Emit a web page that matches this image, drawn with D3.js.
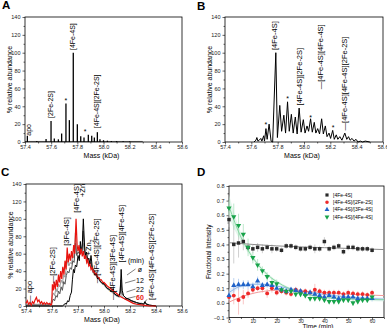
<!DOCTYPE html>
<html>
<head>
<meta charset="utf-8">
<script src="https://cdn.jsdelivr.net/npm/d3@7"></script>
<style>
  body { margin: 0; background: #fff; }
  svg { display: block; font-family: "Liberation Sans", Arial, sans-serif; }
  .tick text { font-size: 5.5px; fill: #222; }
  .tick line { stroke: #000; stroke-width: 0.6; }
  .domain { display: none; }
</style>
</head>
<body>
<div id="figure"></div>
<script>
// shared axis ticks
var massTicks = [57.4, 57.6, 57.8, 58.0, 58.2, 58.4, 58.6]
var massMinor = [57.5, 57.7, 57.9, 58.1, 58.3, 58.5]
var abundTicks = [0, 20, 40, 60, 80, 100, 120, 140]
var abundMinor = [10, 30, 50, 70, 90, 110, 130]

// panel A: stick spectrum (mass in kDa, % abundance)
var peakMassA = [57.418, 57.49, 57.561, 57.599, 57.624, 57.655, 57.68, 57.713, 57.739, 57.769, 57.80, 57.826, 57.851, 57.884, 57.91, 57.93, 57.953, 57.973, 58.0, 58.03, 58.06, 58.1, 58.15, 58.2]
var peakIntA = [7, 1, 3.5, 23.5, 4, 3, 9.5, 43, 24.5, 100, 20, 6.5, 5, 8, 7, 5, 11, 3, 2, 1.5, 1, 1, 0.8, 0.5]
var labelsA = [
  { m: 57.424, v: 7, t: "apo" },
  { m: 57.593, v: 27, t: "[2Fe-2S]" },
  { m: 57.767, v: 103, t: "[4Fe-4S]" },
  { m: 57.945, v: 15.5, t: "[4Fe-4S][2Fe-2S]" }
]
var starsA = [[57.713, 47], [57.859, 12]]

// panel B: profile spectrum
var massB = [57.62, 57.635, 57.642, 57.65, 57.66, 57.672, 57.68, 57.694, 57.70, 57.711, 57.72, 57.735, 57.75, 57.762, 57.786, 57.798, 57.816, 57.83, 57.847, 57.86, 57.875, 57.888, 57.904, 57.918, 57.934, 57.948, 57.963, 57.978, 57.995, 58.008, 58.023, 58.035, 58.05, 58.063, 58.078, 58.09, 58.104, 58.118, 58.134, 58.147, 58.162, 58.175, 58.19, 58.202, 58.218, 58.23, 58.245, 58.257, 58.272, 58.288, 58.31, 58.325, 58.338, 58.35, 58.365, 58.38, 58.395, 58.41, 58.428, 58.445, 58.465, 58.5]
var intB = [0, 2, 5, 1, 2, 4, 1, 7, 1, 15, 3, 20, 1, 0, 100, 5, 41, 12, 30, 10, 45, 12, 31, 10, 28, 9, 38, 11, 25, 10, 18, 12, 26, 11, 22, 10, 15, 9, 26, 9, 18, 6, 10, 4, 13, 3, 8, 3, 6, 2, 10, 3, 6, 2, 4, 1, 3, 0, 1, 0, 1, 0]
var labelsB = [
  { m: 57.777, v: 103, t: "[4Fe-4S]" },
  { m: 57.964, v: 41, t: "[4Fe-4S][2Fe-2S]" },
  { m: 58.124, v: 59, t: "\u2014[4Fe-4S][4Fe-4S]" },
  { m: 58.309, v: 13, t: "\u2014[4Fe-4S][4Fe-4S][2Fe-2S]" }
]
var starsB = [[57.711, 20], [57.875, 49], [58.051, 28], [58.222, 17]]

// panel C: time course spectra, [mass, %]
var specC0 = [[57.40, 0], [57.68, 0], [57.69, 1], [57.70, 3], [57.71, 2], [57.72, 6], [57.73, 5], [57.74, 12], [57.75, 16], [57.757, 30], [57.765, 42], [57.772, 38], [57.78, 47], [57.79, 45], [57.80, 58], [57.81, 52], [57.818, 74], [57.826, 62], [57.833, 70], [57.841, 100], [57.85, 70], [57.858, 57], [57.866, 62], [57.875, 52], [57.883, 55], [57.892, 48], [57.90, 58], [57.91, 44], [57.92, 42], [57.93, 36], [57.94, 38], [57.95, 31], [57.96, 33], [57.97, 28], [57.98, 27], [57.99, 25], [58.00, 26], [58.02, 21], [58.04, 19], [58.06, 17], [58.07, 20], [58.08, 14], [58.10, 12], [58.115, 11], [58.125, 16], [58.132, 42], [58.14, 18], [58.15, 12], [58.17, 9], [58.19, 8], [58.21, 6], [58.23, 5], [58.25, 4], [58.27, 3], [58.29, 3], [58.305, 2], [58.315, 5], [58.325, 2], [58.35, 1], [58.40, 0]]
var specC12 = [[57.40, 1], [57.50, 1], [57.58, 1], [57.60, 4], [57.61, 8], [57.62, 6], [57.63, 12], [57.64, 10], [57.65, 17], [57.66, 14], [57.67, 22], [57.68, 18], [57.69, 28], [57.70, 25], [57.71, 35], [57.72, 40], [57.73, 38], [57.74, 44], [57.75, 42], [57.76, 52], [57.77, 50], [57.78, 72], [57.79, 58], [57.80, 62], [57.81, 60], [57.82, 68], [57.83, 62], [57.84, 86], [57.85, 63], [57.86, 58], [57.87, 55], [57.88, 50], [57.89, 48], [57.90, 50], [57.91, 42], [57.92, 38], [57.94, 35], [57.96, 31], [57.98, 27], [58.00, 25], [58.02, 21], [58.04, 19], [58.06, 17], [58.08, 14], [58.10, 12], [58.12, 12], [58.13, 30], [58.14, 14], [58.16, 10], [58.18, 8], [58.20, 7], [58.25, 4], [58.30, 2], [58.32, 3], [58.35, 1], [58.40, 0]]
var specC22 = [[57.40, 2], [57.50, 2], [57.59, 2], [57.60, 10], [57.61, 15], [57.62, 12], [57.63, 20], [57.64, 16], [57.65, 25], [57.66, 22], [57.67, 30], [57.68, 26], [57.69, 36], [57.70, 33], [57.71, 44], [57.72, 52], [57.73, 46], [57.74, 50], [57.75, 48], [57.76, 58], [57.77, 55], [57.78, 84], [57.79, 62], [57.80, 64], [57.81, 62], [57.82, 66], [57.83, 60], [57.84, 72], [57.85, 60], [57.86, 55], [57.87, 52], [57.88, 48], [57.89, 46], [57.90, 46], [57.91, 40], [57.92, 37], [57.94, 34], [57.96, 30], [57.98, 27], [58.00, 24], [58.02, 20], [58.04, 18], [58.06, 16], [58.08, 13], [58.10, 11], [58.12, 10], [58.13, 20], [58.14, 10], [58.16, 8], [58.18, 7], [58.20, 6], [58.25, 3], [58.30, 1], [58.35, 0], [58.40, 0]]
var specC60 = [[57.40, 3], [57.41, 6], [57.42, 2], [57.43, 4], [57.44, 1], [57.45, 5], [57.46, 3], [57.47, 7], [57.48, 10], [57.49, 5], [57.50, 7], [57.51, 3], [57.52, 5], [57.53, 2], [57.54, 4], [57.55, 2], [57.56, 4], [57.57, 2], [57.58, 3], [57.59, 1], [57.598, 2], [57.603, 25], [57.61, 18], [57.617, 28], [57.625, 19], [57.633, 30], [57.642, 22], [57.65, 36], [57.658, 27], [57.667, 40], [57.675, 31], [57.683, 45], [57.692, 36], [57.70, 52], [57.708, 42], [57.717, 67], [57.725, 50], [57.733, 60], [57.742, 52], [57.75, 63], [57.758, 55], [57.767, 70], [57.775, 60], [57.785, 100], [57.793, 70], [57.80, 63], [57.808, 70], [57.817, 59], [57.825, 66], [57.833, 57], [57.842, 63], [57.85, 54], [57.858, 58], [57.867, 50], [57.875, 53], [57.883, 46], [57.892, 48], [57.90, 42], [57.908, 44], [57.917, 39], [57.925, 40], [57.933, 36], [57.942, 37], [57.95, 33], [57.96, 33], [57.97, 30], [57.98, 30], [57.99, 27], [58.00, 27], [58.025, 23], [58.05, 20], [58.075, 17], [58.10, 14], [58.125, 11], [58.15, 9], [58.175, 7], [58.20, 5], [58.225, 3], [58.25, 2], [58.30, 1], [58.35, 0], [58.40, 0]]
var labelsC = [
  { m: 57.425, v: 3.5, t: "\u2014 apo" },
  { m: 57.605, v: 26, t: "\u2014[2Fe-2S]" },
  { m: 57.708, v: 69, t: "[3Fe-4S]" },
  { m: 57.785, v: 107, t: "[4Fe-4S]" },
  { m: 57.831, v: 125, t: "+Zn" },
  { m: 57.938, v: 26, t: "\u2014[4Fe-4S][2Fe-2S]" },
  { m: 58.062, v: 7, t: "\u2014[4Fe-4S][3Fe-4S]" },
  { m: 58.131, v: 50, t: "[4Fe-4S][4Fe-4S]" },
  { m: 58.362, v: 7, t: "[4Fe-4S][4Fe-4S][2Fe-2S]" }
]
var minutesC = ["\u00f8", "12", "22", "60"]
var coloursC = ["#000", "#555", "#9a9a9a", "#e8140f"]

// panel D: fractional intensity vs time
var timeD = [0, 2, 4, 6, 8, 10, 12, 14, 16, 18, 20, 22, 24, 26, 28, 30, 32, 34, 36, 38, 40, 42, 44, 46, 48, 50, 52, 54, 56, 58, 60]
var fe4D = [0.57, 0.40, 0.41, 0.42, 0.38, 0.37, 0.38, 0.37, 0.38, 0.37, 0.37, 0.36, 0.39, 0.39, 0.38, 0.37, 0.37, 0.38, 0.37, 0.37, 0.42, 0.37, 0.38, 0.39, 0.35, 0.38, 0.38, 0.37, 0.37, 0.37, 0.36]
var fe4fe2D = [0.04, 0.05, 0.02, 0.04, 0.065, 0.09, 0.10, 0.10, 0.065, 0.10, 0.07, 0.08, 0.07, 0.06, 0.09, 0.08, 0.08, 0.07, 0.09, 0.08, 0.07, 0.07, 0.07, 0.07, 0.06, 0.07, 0.065, 0.06, 0.06, 0.055, 0.07]
var fe4fe3D = [0.05, 0.12, 0.125, 0.125, 0.125, 0.11, 0.15, 0.12, 0.125, 0.12, 0.10, 0.09, 0.08, 0.09, 0.085, 0.08, 0.06, 0.07, 0.06, 0.05, 0.04, 0.05, 0.04, 0.03, 0.04, 0.04, 0.04, 0.03, 0.03, 0.03, 0.03]
var fe4fe4D = [0.65, 0.59, 0.53, 0.47, 0.38, 0.31, 0.26, 0.22, 0.18, 0.14, 0.13, 0.09, 0.08, 0.08, 0.06, 0.06, 0.05, 0.03, 0.03, 0.03, 0.02, 0.01, 0.01, 0.01, 0.02, 0.02, 0.00, 0.01, 0.02, 0.02, 0.04]
var fe4ErrD = [0.05, 0.13, 0.1, 0.06, 0.03, 0.03, 0.03, 0.03, 0.02, 0.03, 0.02, 0.02, 0.02, 0.02, 0.02, 0.02, 0.02, 0.02, 0.03, 0.02, 0.03, 0.02, 0.02, 0.02, 0.02, 0.02, 0.02, 0.02, 0.02, 0.02, 0.02]
var fe4fe2ErrD = [0.03, 0.06, 0.10, 0.05, 0.03, 0.03, 0.02, 0.03, 0.03, 0.03, 0.02, 0.02, 0.02, 0.02, 0.02, 0.02, 0.02, 0.02, 0.04, 0.02, 0.02, 0.02, 0.02, 0.02, 0.02, 0.02, 0.02, 0.02, 0.02, 0.02, 0.02]
var fe4fe3ErrD = [0.03, 0.05, 0.04, 0.03, 0.03, 0.03, 0.03, 0.02, 0.02, 0.02, 0.02, 0.02, 0.02, 0.02, 0.02, 0.02, 0.02, 0.02, 0.02, 0.02, 0.02, 0.02, 0.02, 0.02, 0.02, 0.02, 0.02, 0.02, 0.02, 0.02, 0.02]
var fe4fe4ErrD = [0.05, 0.09, 0.08, 0.07, 0.06, 0.04, 0.04, 0.03, 0.03, 0.03, 0.03, 0.02, 0.02, 0.02, 0.02, 0.02, 0.02, 0.02, 0.02, 0.02, 0.02, 0.02, 0.02, 0.02, 0.02, 0.02, 0.02, 0.02, 0.02, 0.02, 0.02]
// fitted curves, [time, value]
var fitFe4 = [[0, 0.412], [10, 0.40], [20, 0.39], [40, 0.378], [65, 0.365]]
var fitFe4fe2 = [[0, 0.005], [5, 0.04], [10, 0.065], [15, 0.08], [20, 0.086], [25, 0.085], [30, 0.08], [40, 0.07], [50, 0.06], [65, 0.05]]
var fitFe4fe3 = [[0, 0.07], [4, 0.11], [8, 0.125], [12, 0.128], [16, 0.125], [20, 0.115], [25, 0.1], [30, 0.083], [40, 0.058], [50, 0.04], [65, 0.025]]
var fitFe4fe4 = [[0, 0.66], [5, 0.45], [10, 0.31], [15, 0.21], [20, 0.145], [25, 0.10], [30, 0.07], [35, 0.05], [40, 0.038], [50, 0.027], [65, 0.022]]
var bandFe4fe4 = [[0, 0.58, 0.74], [5, 0.42, 0.48], [10, 0.295, 0.325], [15, 0.198, 0.222], [20, 0.135, 0.155], [30, 0.062, 0.078], [40, 0.03, 0.046], [65, 0.01, 0.034]]
var bandFe4fe3 = [[0, 0.045, 0.095], [5, 0.103, 0.127], [12, 0.12, 0.136], [20, 0.107, 0.123], [30, 0.075, 0.091], [45, 0.042, 0.054], [65, 0.014, 0.036]]
var legendD = ["[4Fe-4S]", "[4Fe-4S]/[2Fe-2S]", "[4Fe-4S]/[3Fe-4S]", "[4Fe-4S]/[4Fe-4S]"]
var timeTicks = [0, 10, 20, 30, 40, 50, 60]
var timeMinor = [5, 15, 25, 35, 45, 55, 65]
var fracTicks = [-0.1, 0.0, 0.1, 0.2, 0.3, 0.4, 0.5, 0.6, 0.7, 0.8]
var fracMinor = [-0.05, 0.05, 0.15, 0.25, 0.35, 0.45, 0.55, 0.65, 0.75]

var svg = d3.select("#figure")
    .append("svg")
    .attr("width", 387)
    .attr("height", 328)

// draw a boxed frame with outward ticks
function frame(box, x, y, xt, xm, xfmt, yt, ym, yfmt, xpad) {
    var g = svg.append("g")
    g.append("g").attr("transform", `translate(0,${box.b})`)
        .call(d3.axisBottom(x).tickValues(xm).tickSize(1.5).tickFormat(""))
    g.append("g").attr("class", "xlabels").attr("transform", `translate(0,${box.b})`)
        .call(d3.axisBottom(x).tickValues(xt).tickSize(2.5).tickPadding(xpad).tickFormat(xfmt))
    g.append("g").attr("transform", `translate(${box.l},0)`)
        .call(d3.axisLeft(y).tickValues(ym).tickSize(1.5).tickFormat(""))
    g.append("g").attr("transform", `translate(${box.l},0)`)
        .call(d3.axisLeft(y).tickValues(yt).tickSize(2.5).tickPadding(2).tickFormat(yfmt))
    g.append("rect")
        .attr("x", box.l).attr("y", box.t)
        .attr("width", box.r - box.l).attr("height", box.b - box.t)
        .attr("fill", "none").attr("stroke", "#000").attr("stroke-width", 0.8)
    return g
}

function vLabel(g, x, y, text, size) {
    return g.append("text")
        .attr("transform", `translate(${x},${y}) rotate(-90)`)
        .attr("dy", "0.35em")
        .style("font-size", size + "px")
        .text(text)
}

function panelLetter(x, y, t) {
    svg.append("text").attr("x", x).attr("y", y)
        .style("font-size", "11.5px").style("font-weight", "bold").text(t)
}

function massPanel(box, letter, letterX, letterY) {
    var x = d3.scaleLinear().domain([57.4, 58.6]).range([box.l, box.r])
    var y = d3.scaleLinear().domain([0, 140]).range([box.b, box.t])
    var g = frame(box, x, y, massTicks, massMinor, d3.format(".1f"), abundTicks, abundMinor, d3.format("d"), 1)
    // keep the last tick label inside the page
    g.selectAll(".tick text").filter(d => d === 58.6 && box.r > 380).attr("text-anchor", "end").attr("dx", "0.9em")
    svg.append("text")
        .attr("x", (box.l + box.r) / 2 - 2).attr("y", box.b + 16)
        .attr("text-anchor", "middle").style("font-size", "7px")
        .text("Mass (kDa)")
    svg.append("text")
        .attr("transform", `translate(${box.l - 13},${(box.t + box.b) / 2}) rotate(-90)`)
        .attr("text-anchor", "middle").style("font-size", "7px")
        .text("% relative abundance")
    panelLetter(letterX, letterY, letter)
    return { x: x, y: y }
}

// ---------- A ----------
var boxA = { l: 25, r: 182, t: 17, b: 142 }
var sA = massPanel(boxA, "A", 2, 9)
var gA = svg.append("g")
gA.append("line")
    .attr("x1", sA.x(57.4)).attr("x2", sA.x(58.3))
    .attr("y1", sA.y(0.6)).attr("y2", sA.y(0.6))
    .attr("stroke", "#000").attr("stroke-width", 0.6)
gA.selectAll("line.peak")
    .data(peakMassA)
    .enter()
    .append("line")
    .attr("class", "peak")
    .attr("x1", d => sA.x(d)).attr("x2", d => sA.x(d))
    .attr("y1", sA.y(0))
    .attr("y2", (d, i) => sA.y(peakIntA[i]))
    .attr("stroke", "#000").attr("stroke-width", 1.3)
labelsA.forEach(d => vLabel(gA, sA.x(d.m), sA.y(d.v), d.t, 7))
starsA.forEach(d => {
    gA.append("text").attr("x", sA.x(d[0])).attr("y", sA.y(d[1]) + 3)
        .attr("text-anchor", "middle").style("font-size", "7px").text("*")
})

// ---------- B ----------
var boxB = { l: 225, r: 383, t: 17, b: 142 }
var sB = massPanel(boxB, "B", 197, 10)
var gB = svg.append("g")
gB.append("path")
    .datum(massB)
    .attr("d", d3.line().x(d => sB.x(d)).y((d, i) => sB.y(intB[i])))
    .attr("fill", "none").attr("stroke", "#000").attr("stroke-width", 1)
labelsB.forEach(d => vLabel(gB, sB.x(d.m), sB.y(d.v), d.t, 7.5))
starsB.forEach(d => {
    gB.append("text").attr("x", sB.x(d[0])).attr("y", sB.y(d[1]) + 3)
        .attr("text-anchor", "middle").style("font-size", "7px").text("*")
})

// ---------- C ----------
var boxC = { l: 26, r: 182, t: 184, b: 306 }
var sC = massPanel(boxC, "C", 1, 176)
var gC = svg.append("g")
var lineC = d3.line().x(d => sC.x(d[0])).y(d => sC.y(d[1]))
var seriesC = [specC22, specC12, specC0, specC60]
var seriesColour = [coloursC[2], coloursC[1], coloursC[0], coloursC[3]]
seriesC.forEach((s, i) => {
    gC.append("path")
        .datum(s)
        .attr("d", lineC)
        .attr("fill", "none")
        .attr("stroke", seriesColour[i])
        .attr("stroke-width", i === 3 ? 1.2 : 1)
})
labelsC.forEach(d => vLabel(gC, sC.x(d.m), sC.y(d.v), d.t, 7.5))
// +Zn2 with subscript
var zn2 = vLabel(gC, sC.x(57.882), sC.y(58), "", 7.5)
zn2.append("tspan").text("+Zn")
zn2.append("tspan").attr("baseline-shift", "sub").style("font-size", "5px").text("2")
// small tick under the last label
gC.append("line")
    .attr("x1", sC.x(58.305)).attr("y1", sC.y(3))
    .attr("x2", sC.x(58.33)).attr("y2", sC.y(7.5))
    .attr("stroke", "#000").attr("stroke-width", 0.6)
// time legend with leader lines
gC.append("text").attr("x", 136).attr("y", 263)
    .attr("text-anchor", "middle").style("font-size", "7px").text("(min)")
var legY = [272, 283, 292, 299.5]
var legTo = [[127, 275], [125, 283], [126.5, 292], [125, 299]]
minutesC.forEach((t, i) => {
    gC.append("text").attr("x", 140).attr("y", legY[i])
        .attr("text-anchor", "middle").style("font-size", "7px")
        .attr("fill", i === 3 ? coloursC[3] : "#000")
        .style("font-weight", i === 3 ? "bold" : "normal")
        .text(t)
    gC.append("line")
        .attr("x1", 135.5).attr("y1", legY[i] - 3)
        .attr("x2", legTo[i][0]).attr("y2", legTo[i][1])
        .attr("stroke", "#000").attr("stroke-width", 0.5)
})

// ---------- D ----------
var boxD = { l: 229, r: 384, t: 186, b: 317.5 }
var xD = d3.scaleLinear().domain([0, 65]).range([boxD.l, boxD.r])
var yD = d3.scaleLinear().domain([-0.1, 0.8]).range([boxD.b, boxD.t])
var frameD = frame(boxD, xD, yD, timeTicks, timeMinor, d3.format("d"), fracTicks, fracMinor, d3.format(".1f"), -1)
frameD.select(".xlabels").selectAll(".tick text").style("font-size", "5px")
panelLetter(197, 176, "D")
svg.append("text")
    .attr("x", 318).attr("y", 328.5)
    .attr("text-anchor", "middle").style("font-size", "6.5px")
    .text("Time (min)")
svg.append("text")
    .attr("transform", `translate(${boxD.l - 18},${(boxD.t + boxD.b) / 2}) rotate(-90)`)
    .attr("text-anchor", "middle").style("font-size", "6.5px")
    .text("Fractional Intensity")

var gD = svg.append("g")
var area = d3.area().curve(d3.curveMonotoneX)
    .x(d => xD(d[0])).y0(d => yD(d[1])).y1(d => yD(d[2]))
gD.append("path").datum(bandFe4fe4).attr("d", area).attr("fill", "#c8eed8").attr("opacity", 0.5)
gD.append("path").datum(bandFe4fe3).attr("d", area).attr("fill", "#cfe2f6").attr("opacity", 0.55)

var seriesD = [
    { v: fe4D, e: fe4ErrD, fit: fitFe4, c: "#2a2a2a", lc: "#8a8a8a", ec: "#c4c4c4", sym: d3.symbolSquare, rot: 0 },
    { v: fe4fe2D, e: fe4fe2ErrD, fit: fitFe4fe2, c: "#ee2a2a", lc: "#f39a9a", ec: "#f7b8b8", sym: d3.symbolCircle, rot: 0 },
    { v: fe4fe3D, e: fe4fe3ErrD, fit: fitFe4fe3, c: "#1f62c8", lc: "#8fb8ea", ec: "#a9c6ee", sym: d3.symbolTriangle, rot: 0 },
    { v: fe4fe4D, e: fe4fe4ErrD, fit: fitFe4fe4, c: "#17a34a", lc: "#86d7a2", ec: "#aee3c0", sym: d3.symbolTriangle, rot: 180 }
]
var fitLine = d3.line().curve(d3.curveMonotoneX).x(d => xD(d[0])).y(d => yD(d[1]))

// error bars first
seriesD.forEach(s => {
    gD.append("g").selectAll("line")
        .data(timeD)
        .enter()
        .append("line")
        .attr("x1", d => xD(d)).attr("x2", d => xD(d))
        .attr("y1", (d, i) => yD(s.v[i] - s.e[i]))
        .attr("y2", (d, i) => yD(s.v[i] + s.e[i]))
        .attr("stroke", s.ec).attr("stroke-width", 0.8)
})
seriesD.forEach(s => {
    gD.append("path").datum(s.fit).attr("d", fitLine)
        .attr("fill", "none").attr("stroke", s.lc).attr("stroke-width", 1)
})
seriesD.forEach(s => {
    gD.append("g").selectAll("path")
        .data(timeD)
        .enter()
        .append("path")
        .attr("d", d3.symbol().type(s.sym).size(12))
        .attr("transform", (d, i) => `translate(${xD(d)},${yD(s.v[i])}) rotate(${s.rot})`)
        .attr("fill", s.c)
})

// legend
legendD.forEach((t, i) => {
    var ly = 195 + i * 7.3
    gD.append("path")
        .attr("d", d3.symbol().type(seriesD[i].sym).size(10))
        .attr("transform", `translate(327,${ly}) rotate(${seriesD[i].rot})`)
        .attr("fill", seriesD[i].c)
    gD.append("text").attr("x", 333).attr("y", ly + 1.8)
        .style("font-size", "5px").text(t)
})
</script>
</body>
</html>
